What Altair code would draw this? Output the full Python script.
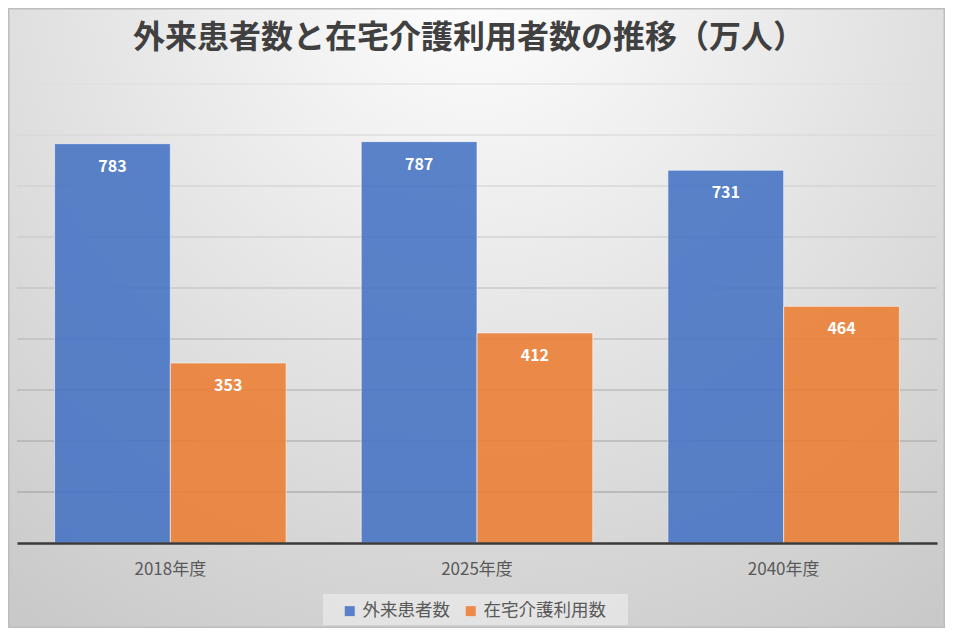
import altair as alt
import pandas as pd

years = ["2018年度", "2025年度", "2040年度"]
series = ["外来患者数", "在宅介護利用数"]
outpatients = [783, 787, 731]
home_care = [353, 412, 464]
grid_values = [100, 200, 300, 400, 500, 600, 700, 800, 900]
title_text = ["外来患者数と在宅介護利用者数の推移（万人）"]

FONT = "Noto Sans CJK JP"

rows = []
for i, y in enumerate(years):
    rows.append({"year": y, "series": series[0], "value": outpatients[i]})
    rows.append({"year": y, "series": series[1], "value": home_care[i]})
df = pd.DataFrame(rows)
grid_df = pd.DataFrame({"v": grid_values})
bg_df = pd.DataFrame({"a": [0]})
title_df = pd.DataFrame({"t": title_text})

W, H = 920, 459
PAD = {"left": 9, "right": 8, "top": 76, "bottom": 85}

yscale = alt.Scale(domain=[0, 900], nice=False, zero=True)

xenc = alt.X(
    "year:N",
    sort=years,
    scale=alt.Scale(paddingInner=0.245, paddingOuter=0.1225),
    axis=alt.Axis(
        title=None,
        labelAngle=0,
        labelFontSize=17,
        labelFont=FONT,
        labelColor="#595959",
        labelPadding=18,
        ticks=False,
        domainColor="#3a3a3a",
        domainWidth=2.5,
        zindex=1,
    ),
)
xoff = alt.XOffset("series:N", sort=series, scale=alt.Scale(paddingInner=0, paddingOuter=0))

bg = alt.Chart(bg_df).mark_rect(
    fill={
        "gradient": "radial",
        "x1": 0.5, "y1": 0.12, "x2": 0.5, "y2": 0.12,
        "r1": 0, "r2": 0.85,
        "stops": [
            {"offset": 0, "color": "#ffffff"},
            {"offset": 1, "color": "#c9c9c9"},
        ],
    },
    stroke="#bdbdbd",
    strokeWidth=1.5,
    clip=False,
).encode(
    x=alt.value(-PAD["left"] + 0.75),
    x2=alt.value(W + PAD["right"] - 0.75),
    y=alt.value(-PAD["top"] + 0.75),
    y2=alt.value(H + PAD["bottom"] - 0.75),
)

legend_box = alt.Chart(bg_df).mark_rect(
    fill="#e6e6e6", fillOpacity=0.85, clip=False
).encode(
    x=alt.value(306), x2=alt.value(611),
    y=alt.value(510), y2=alt.value(541),
)

title = alt.Chart(title_df).mark_text(
    font=FONT, fontSize=32, fontWeight="bold", color="#404040",
    align="center", baseline="middle", clip=False,
).encode(
    x=alt.value(W / 2 - 8),
    y=alt.value(-46),
    text="t:N",
)

grid = alt.Chart(grid_df).mark_rule(strokeWidth=1.2).encode(
    y=alt.Y("v:Q", scale=yscale, axis=None),
    stroke=alt.Stroke(
        "v:Q",
        scale=alt.Scale(domain=[100, 900], range=["#9c9c9c", "#dedede"]),
        legend=None,
    ),
)

bars = alt.Chart(df).mark_bar(
    opacity=0.87, stroke="white", strokeWidth=1, strokeOpacity=0.6
).encode(
    x=xenc,
    xOffset=xoff,
    y=alt.Y("value:Q", scale=yscale, axis=None),
    color=alt.Color(
        "series:N",
        sort=series,
        scale=alt.Scale(domain=series, range=["#4472C4", "#ED7D31"]),
        legend=alt.Legend(
            title=None,
            orient="none",
            legendX=324,
            legendY=518,
            direction="horizontal",
            symbolType="square",
            symbolSize=100,
            symbolStrokeWidth=0,
            labelFontSize=17.5,
            labelFont=FONT,
            labelColor="#595959",
            padding=0,
            columnPadding=12,
            labelOffset=4,
        ),
    ),
)

labels = alt.Chart(df).mark_text(
    color="white", fontSize=16, fontWeight="bold", font=FONT,
    baseline="alphabetic", dy=28,
).encode(
    x=xenc,
    xOffset=xoff,
    y=alt.Y("value:Q", scale=yscale, axis=None),
    text=alt.Text("value:Q"),
)

chart = alt.layer(bg, legend_box, grid, bars, labels, title).properties(
    width=W,
    height=H,
    padding=PAD,
    autosize=alt.AutoSizeParams(type="none"),
).configure_view(stroke=None).configure(background="white")

chart.save("out.html", embed_options={"renderer": "svg", "actions": False})
